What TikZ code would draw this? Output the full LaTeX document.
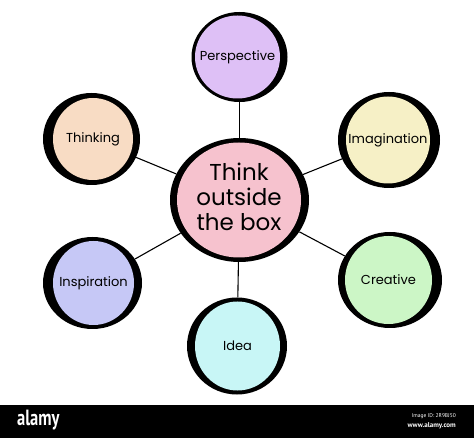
\documentclass[tikz,border=0pt]{standalone}
\usepackage{fontspec}
\setmainfont{Poppins}
\newfontfamily\wmfont{PT Sans}
\usetikzlibrary{shapes.geometric}
\definecolor{cpersp}{HTML}{DEC0F6}
\definecolor{cthink}{HTML}{F8DCC4}
\definecolor{cimag}{HTML}{F6F0C6}
\definecolor{cinsp}{HTML}{C6C8F6}
\definecolor{ccreat}{HTML}{CCF6C6}
\definecolor{cidea}{HTML}{C8F6F6}
\definecolor{ccenter}{HTML}{F6C2CE}
\tikzset{
  ring/.style={ellipse, fill=black, inner sep=0pt},
  face/.style={ellipse, inner sep=0pt},
  lbl/.style={inner sep=0pt, align=center, text=black, font=\fontsize{13}{15}\selectfont},
  link/.style={draw=black, line width=1.1pt}
}
\begin{document}
\begin{tikzpicture}[x=1pt,y=-1pt]
\useasboundingbox (0,0) rectangle (474,438);
\fill[white] (0,0) rectangle (474,438);
% outer rings
\node[ring, minimum width=139pt, minimum height=124pt] (c) at (239.5,200) {};
\node[ring, minimum width=96pt, minimum height=90pt] (p) at (239.5,57) {};
\node[ring, minimum width=97pt, minimum height=92pt] (t) at (91.5,139) {};
\node[ring, minimum width=102pt, minimum height=96pt] (m) at (389,140) {};
\node[ring, minimum width=99pt, minimum height=92pt] (s) at (92.5,283) {};
\node[ring, minimum width=104pt, minimum height=96pt] (r) at (390,280) {};
\node[ring, minimum width=100pt, minimum height=97pt] (d) at (237,346) {};
% connectors
\draw[link] (c) -- (p);
\draw[link] (c) -- (t);
\draw[link] (c) -- (m);
\draw[link] (c) -- (s);
\draw[link] (c) -- (r);
\draw[link] (c) -- (d);
% faces
\node[face, fill=ccenter, minimum width=124pt, minimum height=115pt] (cf) at ([xshift=-0.5pt]c.center) {};
\node[face, fill=cpersp, minimum width=85pt, minimum height=83pt] (pf) at ([xshift=-2pt]p.center) {};
\node[face, fill=cthink, minimum width=80pt, minimum height=82pt] (tf) at ([xshift=1.5pt]t.center) {};
\node[face, fill=cimag, minimum width=84pt, minimum height=87pt] (mf) at ([xshift=-1pt]m.center) {};
\node[face, fill=cinsp, minimum width=81pt, minimum height=84pt] (sf) at ([xshift=1pt]s.center) {};
\node[face, fill=ccreat, minimum width=87pt, minimum height=88pt] (rf) at ([xshift=-1.5pt]r.center) {};
\node[face, fill=cidea, minimum width=85pt, minimum height=89pt] (df) at ([xshift=0.5pt]d.center) {};
% labels
\node[lbl, font=\fontsize{23}{25}\selectfont] (cl) at ([yshift=3pt]cf.center) {Think\\outside\\the box};
\node[lbl] (pl) at (pf.center) {Perspective};
\node[lbl] (tl) at (tf.center) {Thinking};
\node[lbl] (ml) at (mf.center) {Imagination};
\node[lbl] (sl) at (sf.center) {Inspiration};
\node[lbl] (rl) at (rf.center) {Creative};
\node[lbl] (dl) at (df.center) {Idea};
% bottom bar
\node[fill=black, minimum width=474pt, minimum height=33pt, inner sep=0pt, anchor=north west] (bar) at (0,405) {};
\node[text=white, anchor=west, inner sep=0pt, xscale=0.75, transform shape, font=\wmfont\bfseries\fontsize{22}{22}\selectfont] (logo) at (17,420) {alamy};
\node[text=white, anchor=east, inner sep=0pt, font=\wmfont\fontsize{5.5}{6}\selectfont] (iid) at (456,416) {Image ID: 2R9BJ50};
\node[text=white, anchor=east, inner sep=0pt, font=\wmfont\bfseries\fontsize{7}{8}\selectfont] (url) at (456,426) {www.alamy.com};
\end{tikzpicture}
\end{document}
